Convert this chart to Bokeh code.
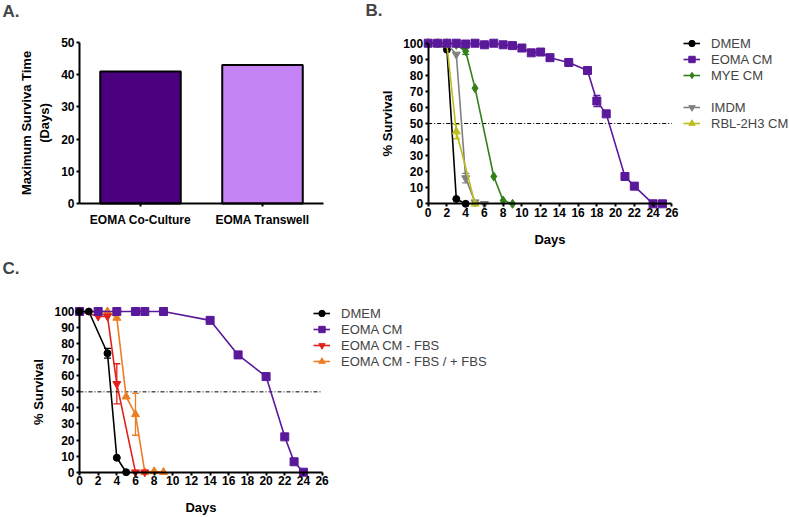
from bokeh.plotting import figure
from bokeh.models import (ColumnDataSource, Whisker, TeeHead, Legend, LegendItem,
                          Label, FixedTicker, Range1d)
from bokeh.layouts import column, row
from bokeh.embed import file_html
from bokeh.resources import INLINE

FONT = "Liberation Sans"

# ---------------- Panel A data ----------------
a_categories = ["EOMA Co-Culture", "EOMA Transwell"]
a_values = [41, 43]
a_colors = ["#4B0080", "#C583F5"]
a_yticks = [0, 10, 20, 30, 40, 50]

# ---------------- Panel B data ----------------
b_dmem_x = [0, 1, 2, 3, 4]
b_dmem_y = [100, 100, 96, 3, 0]
b_eoma_x = [0, 1, 2, 3, 4, 5, 6, 7, 8, 9, 10, 11, 12, 13, 15, 17, 18, 19, 21, 22, 24, 25]
b_eoma_y = [100, 100, 100, 100, 99.5, 100, 99, 100, 99, 98.5, 97, 94, 94.5, 91, 88, 83, 64, 56, 17, 11, 0, 0]
b_mye_x = [0, 1, 2, 3, 4, 5, 7, 8, 9]
b_mye_y = [100, 100, 100, 99, 95, 72, 17, 2, 0]
b_imdm_x = [0, 1, 2, 3, 4, 5, 6]
b_imdm_y = [100, 100, 100, 93, 16, 1, 0]
b_rbl_x = [0, 1, 2, 3, 5]
b_rbl_y = [100, 100, 99, 45, 0]
# error bars (day, mean, sem)
b_eoma_err = ([18, 22], [64, 11], [3.5, 2])
b_mye_err = ([4], [95], [2])
b_imdm_err = ([4], [16], [3])
b_rbl_err = ([3], [45], [4.5])

# ---------------- Panel C data ----------------
c_dmem_x = [0, 1, 3, 4, 5]
c_dmem_y = [100, 100, 74, 9, 0]
c_eoma_x = [0, 2, 4, 6, 7, 9, 14, 17, 20, 22, 23, 24]
c_eoma_y = [100, 100, 100, 100, 100, 100, 94.5, 73, 59.5, 22, 6.5, 0]
c_fbs_x = [0, 2, 3, 4, 6, 7]
c_fbs_y = [100, 97, 97, 55, 0, 0]
c_fbsp_x = [0, 3, 4, 5, 6, 7, 8, 9]
c_fbsp_y = [100, 100, 96, 47, 36, 0, 0.5, 0]
c_dmem_err = ([3], [74], [3])
c_eoma_err = ([20], [59.5], [1.5])
c_fbs_err = ([4], [55], [12.5])
c_fbsp_err = ([6], [36], [13])

# shared axes / reference line
day_ticks = list(range(0, 27, 2))
surv_ticks = list(range(0, 101, 10))
day_bounds = (0, 26)
surv_bounds = (0, 100)
ref_days = [0, 26]
ref_surv = [50, 50]

BLACK = "#000000"
PURPLE = "#5A189A"
GREEN = "#338019"
GRAY = "#808080"
OLIVE = "#BDBE1C"
RED = "#E3211C"
ORANGE = "#EC7D22"


def style_axes(p, xstand, ystand, xlab_stand, ylab_stand):
    for ax in p.axis:
        ax.axis_line_width = 2
        ax.axis_line_color = "black"
        ax.major_tick_line_width = 2
        ax.major_tick_out = 3
        ax.major_tick_in = 0
        ax.minor_tick_line_color = None
        ax.major_label_text_font = FONT
        ax.major_label_text_font_style = "bold"
        ax.major_label_text_font_size = "12px"
        ax.major_label_text_color = "black"
        ax.axis_label_text_font = FONT
        ax.axis_label_text_font_style = "bold"
        ax.axis_label_text_font_size = "13px"
        ax.axis_label_text_color = "black"
    p.xaxis.major_label_standoff = xstand
    p.yaxis.major_label_standoff = ystand
    p.xaxis.axis_label_standoff = xlab_stand
    p.yaxis.axis_label_standoff = ylab_stand


def make_fig(w, h, xr, yr):
    p = figure(width=w, height=h, x_range=Range1d(*xr), y_range=Range1d(*yr),
               output_backend="svg", toolbar_location=None,
               min_border_left=0, min_border_right=0,
               min_border_top=0, min_border_bottom=0)
    p.outline_line_color = None
    p.grid.visible = False
    return p


def panel_label(p, text, x, y):
    p.add_layout(Label(x=x, y=y, x_units="screen", y_units="screen", text=text,
                       text_font=FONT, text_font_style="bold", text_font_size="17px",
                       text_baseline="top", text_align="left"))


def add_series(p, xs, ys, color, marker, size, err=None):
    l = p.line(xs, ys, line_color=color, line_width=1.6)
    s = p.scatter(xs, ys, marker=marker, size=size, fill_color=color, line_color=color)
    if err is not None:
        ex, ey, es = err
        src = ColumnDataSource(dict(x=ex, lo=[m - e for m, e in zip(ey, es)],
                                    hi=[m + e for m, e in zip(ey, es)]))
        p.add_layout(Whisker(source=src, base="x", lower="lo", upper="hi",
                             line_color=color, line_width=1.3,
                             upper_head=TeeHead(size=7, line_color=color, line_width=1.3),
                             lower_head=TeeHead(size=7, line_color=color, line_width=1.3)))
    return [l, s]


def make_legend(items, x, y):
    return Legend(items=items, location=(x, y), orientation="vertical",
                  padding=0, margin=0, spacing=0, glyph_width=17, glyph_height=16,
                  label_height=16, label_standoff=11, label_text_font=FONT,
                  label_text_font_size="13px", border_line_color=None,
                  background_fill_alpha=0)


def survival_axes(p, xlab_stand, ylab_stand):
    style_axes(p, 1, 2, xlab_stand, ylab_stand)
    p.xaxis.fixed_location = 0
    p.yaxis.fixed_location = 0
    p.xaxis.bounds = day_bounds
    p.yaxis.bounds = surv_bounds
    p.xaxis.ticker = FixedTicker(ticks=day_ticks)
    p.yaxis.ticker = FixedTicker(ticks=surv_ticks)
    p.xaxis.axis_label = "Days"
    p.yaxis.axis_label = "% Survival"


# ================= Panel A =================
pa = make_fig(350, 256, (-0.1475, 2.7213), (-16.46, 63.04))
a_x = list(range(1, len(a_categories) + 1))
pa.vbar(x=a_x, top=a_values, width=0.66, fill_color=a_colors,
        line_color="black", line_width=2)
style_axes(pa, 7, 2, 5, 6)
pa.xaxis.fixed_location = 0
pa.yaxis.fixed_location = 0.5
pa.xaxis.bounds = (0.5, 2.5)
pa.yaxis.bounds = (a_yticks[0], a_yticks[-1])
pa.xaxis.ticker = FixedTicker(ticks=a_x)
pa.xaxis.major_label_overrides = {xx: c for xx, c in zip(a_x, a_categories)}
pa.yaxis.ticker = FixedTicker(ticks=a_yticks)
pa.yaxis.axis_label = "Maximum Surviva Time\n(Days)"
panel_label(pa, "A.", 2, 255)

# ================= Panel B =================
pb = make_fig(439, 256, (-8.292, 38.56), (-32.81, 126.59))
pb.line(ref_days, ref_surv, line_color="black", line_width=1, line_dash="4 2 1 2")
r_dmem = add_series(pb, b_dmem_x, b_dmem_y, BLACK, "circle", 7)
r_mye = add_series(pb, b_mye_x, b_mye_y, GREEN, "diamond", 9, b_mye_err)
r_imdm = add_series(pb, b_imdm_x, b_imdm_y, GRAY, "inverted_triangle", 8, b_imdm_err)
r_rbl = add_series(pb, b_rbl_x, b_rbl_y, OLIVE, "triangle", 8, b_rbl_err)
r_eoma = add_series(pb, b_eoma_x, b_eoma_y, PURPLE, "square", 8, b_eoma_err)
survival_axes(pb, 12, 5)
pb.add_layout(make_legend([LegendItem(label="DMEM", renderers=r_dmem),
                           LegendItem(label="EOMA CM", renderers=r_eoma),
                           LegendItem(label="MYE CM", renderers=r_mye)], 333, 173))
pb.add_layout(make_legend([LegendItem(label="IMDM", renderers=r_imdm),
                           LegendItem(label="RBL-2H3 CM", renderers=r_rbl)], 333, 125))
panel_label(pb, "B.", 15, 256)

# ================= Panel C =================
pc = make_fig(789, 261, (-8.467, 76.10), (-28.19, 134.23))
pc.line(ref_days, ref_surv, line_color="black", line_width=1, line_dash="4 2 1 2")
q_fbsp = add_series(pc, c_fbsp_x, c_fbsp_y, ORANGE, "triangle", 8, c_fbsp_err)
q_fbs = add_series(pc, c_fbs_x, c_fbs_y, RED, "inverted_triangle", 8, c_fbs_err)
q_eoma = add_series(pc, c_eoma_x, c_eoma_y, PURPLE, "square", 8, c_eoma_err)
q_dmem = add_series(pc, c_dmem_x, c_dmem_y, BLACK, "circle", 7, c_dmem_err)
survival_axes(pc, 11, 5)
pc.add_layout(make_legend([LegendItem(label="DMEM", renderers=q_dmem),
                           LegendItem(label="EOMA CM", renderers=q_eoma),
                           LegendItem(label="EOMA CM - FBS", renderers=q_fbs),
                           LegendItem(label="EOMA CM - FBS / + FBS", renderers=q_fbsp)],
                          313, 148))
panel_label(pc, "C.", 2, 259)

layout = column(row(pa, pb), pc)
open("out.html", "w").write(file_html(layout, INLINE))
